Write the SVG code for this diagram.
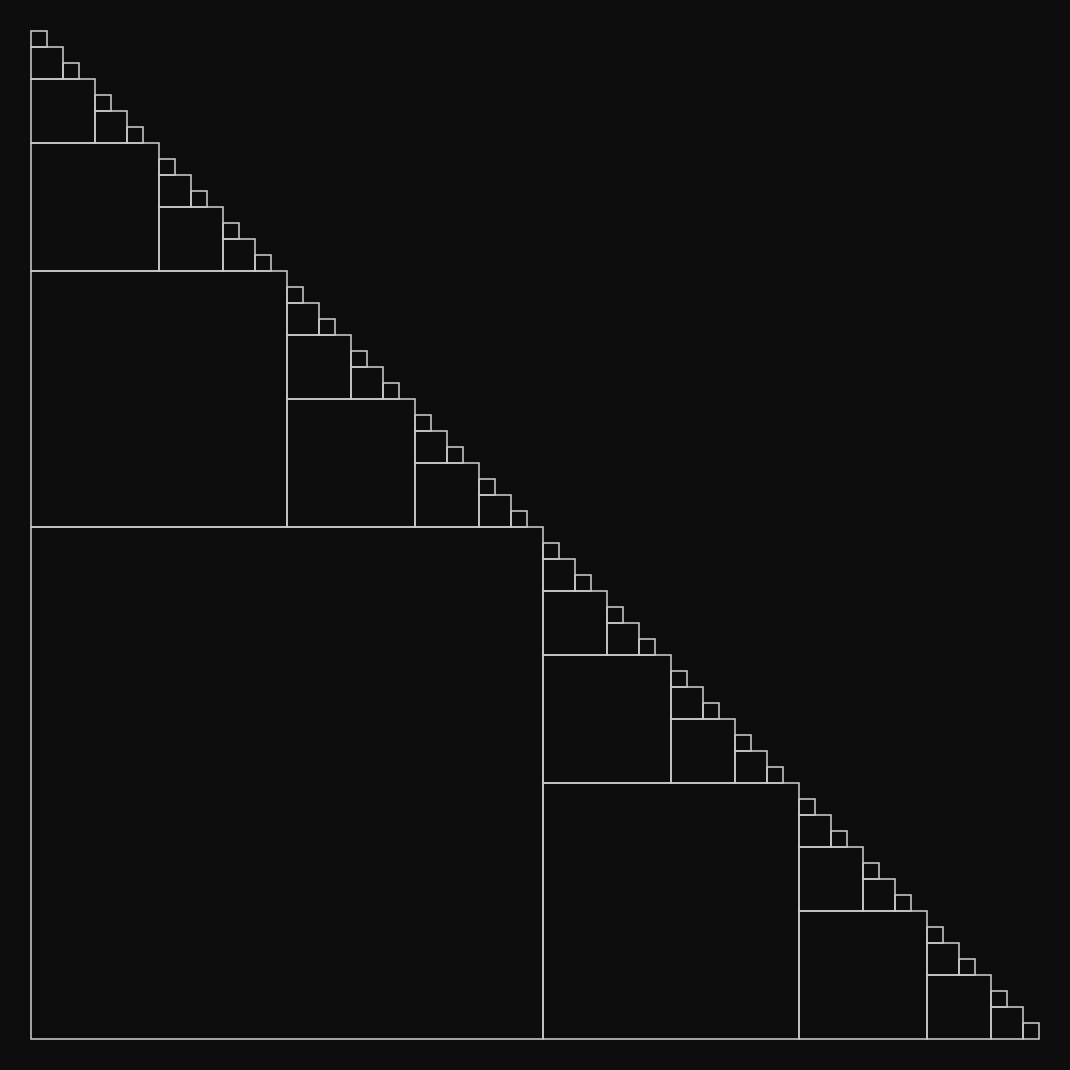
<svg xmlns="http://www.w3.org/2000/svg" width="1070" height="1070" viewBox="0 0 1070 1070">
<style>
.sq{fill:none;stroke:#c8c8c8;stroke-width:1.6}
</style>
<rect x="0" y="0" width="1070" height="1070" fill="#0d0d0d"/>
<g id="s32">
<rect class="sq" x="31" y="527" width="512" height="512"/>
</g>
<g id="s16">
<rect class="sq" x="31" y="271" width="256" height="256"/>
<rect class="sq" x="543" y="783" width="256" height="256"/>
</g>
<g id="s8">
<rect class="sq" x="31" y="143" width="128" height="128"/>
<rect class="sq" x="287" y="399" width="128" height="128"/>
<rect class="sq" x="543" y="655" width="128" height="128"/>
<rect class="sq" x="799" y="911" width="128" height="128"/>
</g>
<g id="s4">
<rect class="sq" x="31" y="79" width="64" height="64"/>
<rect class="sq" x="159" y="207" width="64" height="64"/>
<rect class="sq" x="287" y="335" width="64" height="64"/>
<rect class="sq" x="415" y="463" width="64" height="64"/>
<rect class="sq" x="543" y="591" width="64" height="64"/>
<rect class="sq" x="671" y="719" width="64" height="64"/>
<rect class="sq" x="799" y="847" width="64" height="64"/>
<rect class="sq" x="927" y="975" width="64" height="64"/>
</g>
<g id="s2">
<rect class="sq" x="31" y="47" width="32" height="32"/>
<rect class="sq" x="95" y="111" width="32" height="32"/>
<rect class="sq" x="159" y="175" width="32" height="32"/>
<rect class="sq" x="223" y="239" width="32" height="32"/>
<rect class="sq" x="287" y="303" width="32" height="32"/>
<rect class="sq" x="351" y="367" width="32" height="32"/>
<rect class="sq" x="415" y="431" width="32" height="32"/>
<rect class="sq" x="479" y="495" width="32" height="32"/>
<rect class="sq" x="543" y="559" width="32" height="32"/>
<rect class="sq" x="607" y="623" width="32" height="32"/>
<rect class="sq" x="671" y="687" width="32" height="32"/>
<rect class="sq" x="735" y="751" width="32" height="32"/>
<rect class="sq" x="799" y="815" width="32" height="32"/>
<rect class="sq" x="863" y="879" width="32" height="32"/>
<rect class="sq" x="927" y="943" width="32" height="32"/>
<rect class="sq" x="991" y="1007" width="32" height="32"/>
</g>
<g id="s1">
<rect class="sq" x="31" y="31" width="16" height="16"/>
<rect class="sq" x="63" y="63" width="16" height="16"/>
<rect class="sq" x="95" y="95" width="16" height="16"/>
<rect class="sq" x="127" y="127" width="16" height="16"/>
<rect class="sq" x="159" y="159" width="16" height="16"/>
<rect class="sq" x="191" y="191" width="16" height="16"/>
<rect class="sq" x="223" y="223" width="16" height="16"/>
<rect class="sq" x="255" y="255" width="16" height="16"/>
<rect class="sq" x="287" y="287" width="16" height="16"/>
<rect class="sq" x="319" y="319" width="16" height="16"/>
<rect class="sq" x="351" y="351" width="16" height="16"/>
<rect class="sq" x="383" y="383" width="16" height="16"/>
<rect class="sq" x="415" y="415" width="16" height="16"/>
<rect class="sq" x="447" y="447" width="16" height="16"/>
<rect class="sq" x="479" y="479" width="16" height="16"/>
<rect class="sq" x="511" y="511" width="16" height="16"/>
<rect class="sq" x="543" y="543" width="16" height="16"/>
<rect class="sq" x="575" y="575" width="16" height="16"/>
<rect class="sq" x="607" y="607" width="16" height="16"/>
<rect class="sq" x="639" y="639" width="16" height="16"/>
<rect class="sq" x="671" y="671" width="16" height="16"/>
<rect class="sq" x="703" y="703" width="16" height="16"/>
<rect class="sq" x="735" y="735" width="16" height="16"/>
<rect class="sq" x="767" y="767" width="16" height="16"/>
<rect class="sq" x="799" y="799" width="16" height="16"/>
<rect class="sq" x="831" y="831" width="16" height="16"/>
<rect class="sq" x="863" y="863" width="16" height="16"/>
<rect class="sq" x="895" y="895" width="16" height="16"/>
<rect class="sq" x="927" y="927" width="16" height="16"/>
<rect class="sq" x="959" y="959" width="16" height="16"/>
<rect class="sq" x="991" y="991" width="16" height="16"/>
<rect class="sq" x="1023" y="1023" width="16" height="16"/>
</g>
</svg>
